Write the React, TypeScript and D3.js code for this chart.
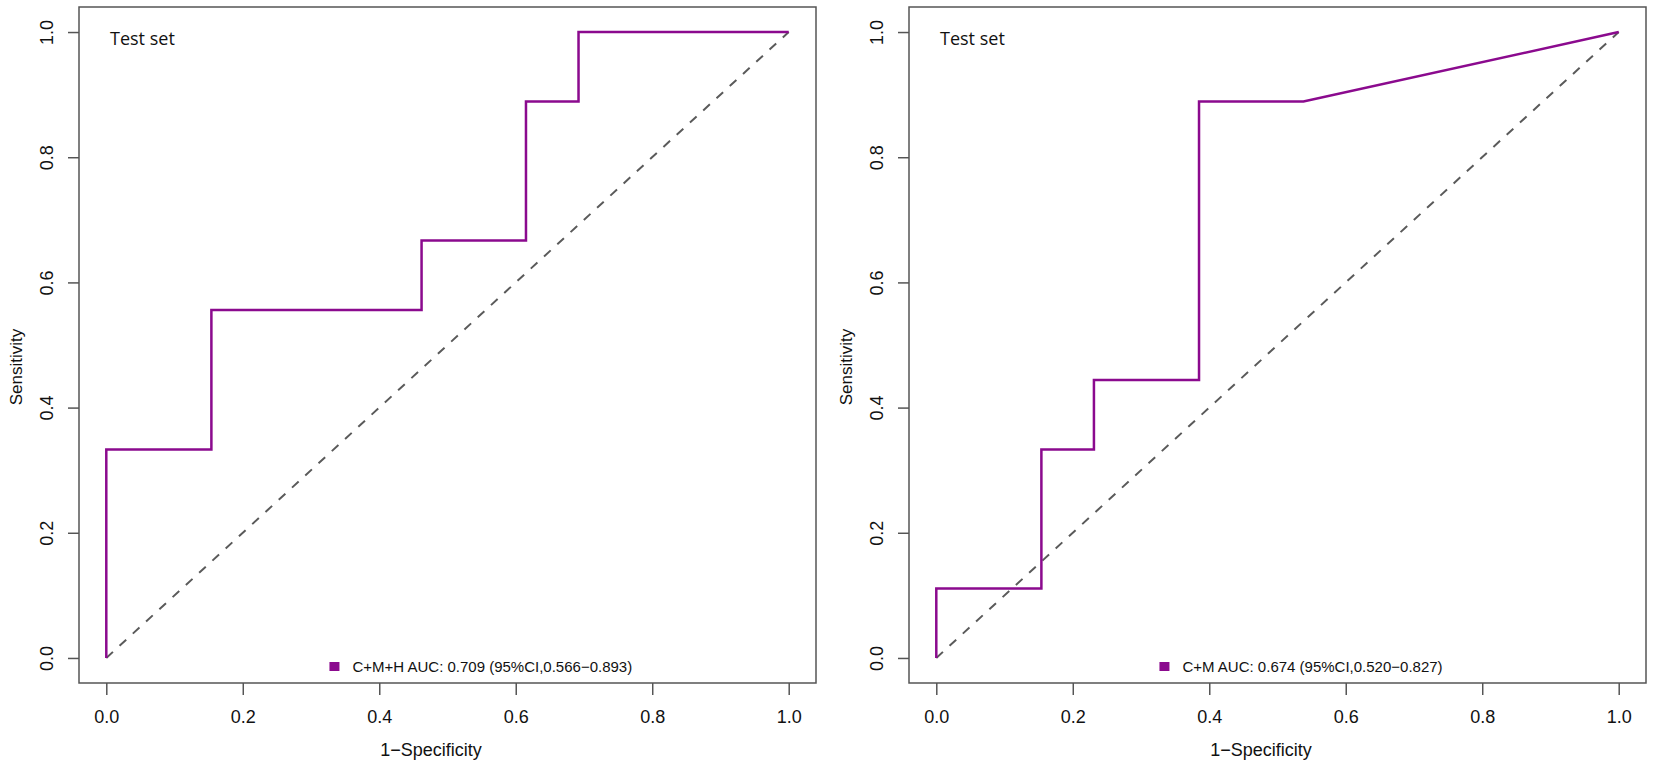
import { useEffect, useRef } from "react";
import * as d3 from "d3";

// ROC points (1-specificity, sensitivity)
const LEFT_FPR = [0, 0, 0.154, 0.154, 0.462, 0.462, 0.615, 0.615, 0.692, 0.692, 1];
const LEFT_TPR = [0, 0.333, 0.333, 0.556, 0.556, 0.667, 0.667, 0.889, 0.889, 1, 1];
const RIGHT_FPR = [0, 0, 0.154, 0.154, 0.231, 0.231, 0.385, 0.385, 0.538, 1];
const RIGHT_TPR = [0, 0.111, 0.111, 0.333, 0.333, 0.444, 0.444, 0.889, 0.889, 1];

const LEGENDS = ["C+M+H AUC: 0.709 (95%CI,0.566\u22120.893)", "C+M AUC: 0.674 (95%CI,0.520\u22120.827)"];
const TICKS = [0, 0.2, 0.4, 0.6, 0.8, 1.0];
const PANEL_TITLE = "Test set";

const W = 1654;
const H = 772;
const PURPLE = "#8b0a8e";
const AXIS = "#555";
const FONT = "'Liberation Sans', Arial, sans-serif";

type Panel = { left: number; fpr: number[]; tpr: number[]; legend: string };

const PANELS: Panel[] = [
  { left: 79, fpr: LEFT_FPR, tpr: LEFT_TPR, legend: LEGENDS[0] },
  { left: 909, fpr: RIGHT_FPR, tpr: RIGHT_TPR, legend: LEGENDS[1] },
];

export default function App() {
  const ref = useRef<SVGSVGElement | null>(null);

  useEffect(() => {
    const svg = d3.select(ref.current);
    svg.selectAll("*").remove();

    const boxW = 737;
    const top = 7;
    const bottom = 683;

    PANELS.forEach((p) => {
      // R-style 4% padding on both axes
      const x = d3.scaleLinear().domain([-0.04, 1.04]).range([p.left, p.left + boxW]);
      const y = d3.scaleLinear().domain([-0.04, 1.04]).range([bottom, top]);
      const g = svg.append("g");

      // reference diagonal
      g.append("line")
        .attr("x1", x(0))
        .attr("y1", y(0))
        .attr("x2", x(1))
        .attr("y2", y(1))
        .attr("stroke", "#5a5a5a")
        .attr("stroke-width", 2)
        .attr("stroke-dasharray", "9,9");

      const pts = p.fpr.map((f, i) => [f, p.tpr[i]] as [number, number]);
      const line = d3
        .line<[number, number]>()
        .x((d) => x(d[0]))
        .y((d) => y(d[1]));
      g.append("path")
        .attr("d", line(pts) ?? "")
        .attr("fill", "none")
        .attr("stroke", PURPLE)
        .attr("stroke-width", 2.5);

      // frame
      g.append("rect")
        .attr("x", p.left)
        .attr("y", top)
        .attr("width", boxW)
        .attr("height", bottom - top)
        .attr("fill", "none")
        .attr("stroke", AXIS)
        .attr("stroke-width", 1.5);

      // x axis
      const xa = g.append("g").attr("transform", `translate(0,${bottom})`);
      xa.call(d3.axisBottom(x).tickValues(TICKS).tickSize(12).tickFormat(d3.format(".1f")))
        .call((s) => s.select(".domain").remove())
        .call((s) => s.selectAll("line").attr("stroke", AXIS).attr("stroke-width", 1.5))
        .call((s) =>
          s
            .selectAll("text")
            .attr("fill", "#111")
            .attr("font-size", 18)
            .attr("font-family", FONT)
            .attr("dy", null)
            .attr("y", 40),
        );

      // y axis with rotated labels
      const ya = g.append("g").attr("transform", `translate(${p.left},0)`);
      ya.call(d3.axisLeft(y).tickValues(TICKS).tickSize(11).tickFormat(d3.format(".1f")))
        .call((s) => s.select(".domain").remove())
        .call((s) => s.selectAll("line").attr("stroke", AXIS).attr("stroke-width", 1.5))
        .call((s) =>
          s
            .selectAll("text")
            .attr("fill", "#111")
            .attr("font-size", 18)
            .attr("font-family", FONT)
            .attr("x", null)
            .attr("dy", null)
            .attr("text-anchor", "middle")
            .attr("transform", "translate(-26,0) rotate(-90)"),
        );

      // axis titles
      g.append("text")
        .attr("x", p.left + 352)
        .attr("y", 756)
        .attr("text-anchor", "middle")
        .attr("font-size", 18)
        .attr("font-family", FONT)
        .attr("fill", "#111")
        .text("1\u2212Specificity");
      g.append("text")
        .attr("transform", `translate(${p.left - 57},367) rotate(-90)`)
        .attr("text-anchor", "middle")
        .attr("font-size", 17)
        .attr("font-family", FONT)
        .attr("fill", "#111")
        .text("Sensitivity");

      // panel label
      g.append("text")
        .attr("x", p.left + 31)
        .attr("y", 45)
        .attr("font-size", 18)
        .attr("font-family", "'Open Sans', 'Noto Sans', sans-serif")
        .attr("fill", "#111")
        .text(PANEL_TITLE);

      // legend
      const lx = x(0.327);
      g.append("rect")
        .attr("x", lx)
        .attr("y", 662)
        .attr("width", 10)
        .attr("height", 9)
        .attr("fill", PURPLE);
      g.append("text")
        .attr("x", lx + 23)
        .attr("y", 672)
        .attr("font-size", 15)
        .attr("font-family", FONT)
        .attr("fill", "#111")
        .text(p.legend);
    });
  }, []);

  return (
    <svg
      ref={ref}
      width={W}
      height={H}
      style={{ position: "absolute", left: 0, top: 0, background: "#fff" }}
    />
  );
}
